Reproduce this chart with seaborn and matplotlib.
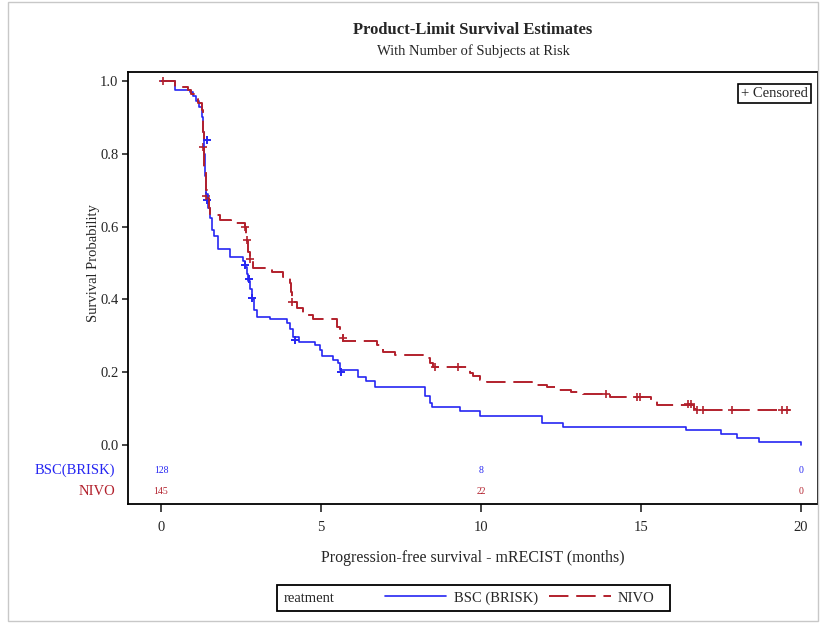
import matplotlib
matplotlib.use("Agg")
import matplotlib.pyplot as plt
import seaborn as sns
from matplotlib.lines import Line2D
from matplotlib.patches import Rectangle

# Kaplan-Meier step points (time in months, survival after step)
bsc_t = [0, 0.45, 0.9, 1.0, 1.1, 1.2, 1.27, 1.3, 1.35, 1.38, 1.42, 1.47, 1.53, 1.6, 1.65,
         1.78, 2.16, 2.55, 2.63, 2.68, 2.72, 2.78, 2.83, 2.9, 2.99, 3.4, 3.93, 4.03, 4.13,
         4.3, 4.81, 4.97, 5.02, 5.38, 5.54, 5.6, 6.16, 6.4, 6.69, 8.25, 8.4, 8.46, 9.34,
         9.97, 11.9, 12.57, 16.4, 17.5, 18.0, 18.7, 20.0]
bsc_s = [1.0, 0.975, 0.97, 0.96, 0.945, 0.93, 0.90, 0.86, 0.80, 0.74, 0.69, 0.65, 0.625,
         0.59, 0.575, 0.54, 0.516, 0.505, 0.49, 0.47, 0.45, 0.43, 0.40, 0.37, 0.352, 0.345,
         0.335, 0.32, 0.298, 0.284, 0.275, 0.26, 0.245, 0.234, 0.225, 0.205, 0.188, 0.175,
         0.16, 0.135, 0.115, 0.105, 0.094, 0.08, 0.06, 0.049, 0.04, 0.03, 0.019, 0.009, 0.0]

nivo_t = [0, 0.45, 0.85, 0.95, 1.05, 1.16, 1.27, 1.3, 1.33, 1.36, 1.4, 1.43, 1.5, 1.53,
          1.84, 2.2, 2.63, 2.66, 2.68, 2.72, 2.78, 2.88, 3.46, 3.8, 4.03, 4.06, 4.08, 4.24,
          4.44, 4.75, 5.49, 5.59, 5.7, 6.74, 6.94, 7.3, 8.2, 8.4, 8.5, 9.66, 9.76, 9.97,
          10.2, 11.6, 12.06, 12.37, 12.8, 13.2, 14.03, 15.3, 15.5, 16.65, 16.75, 19.66]
nivo_s = [1.0, 0.985, 0.975, 0.965, 0.95, 0.94, 0.92, 0.86, 0.82, 0.76, 0.70, 0.68, 0.65,
          0.632, 0.618, 0.61, 0.60, 0.575, 0.56, 0.53, 0.51, 0.486, 0.476, 0.462, 0.445,
          0.42, 0.394, 0.376, 0.357, 0.347, 0.325, 0.302, 0.287, 0.275, 0.256, 0.247,
          0.238, 0.225, 0.215, 0.197, 0.19, 0.179, 0.174, 0.165, 0.16, 0.151, 0.146, 0.14,
          0.132, 0.12, 0.11, 0.10, 0.095, 0.095]

# censored observations
bsc_cens_t = [1.43, 1.44, 2.63, 2.75, 2.83, 4.2, 5.63]
bsc_cens_s = [0.838, 0.673, 0.495, 0.455, 0.404, 0.288, 0.2]
nivo_cens_t = [0.05, 1.3, 1.42, 2.63, 2.68, 2.78, 4.08, 5.68, 8.56, 9.28, 13.9, 14.87,
               14.97, 16.47, 16.55, 16.75, 16.95, 17.83, 19.4, 19.57]
nivo_cens_s = [1.0, 0.82, 0.685, 0.60, 0.563, 0.51, 0.394, 0.294, 0.215, 0.215, 0.14,
               0.132, 0.132, 0.112, 0.112, 0.095, 0.095, 0.095, 0.095, 0.095]

# numbers at risk
risk_times = [0, 10, 20]
bsc_risk = [128, 8, 0]
nivo_risk = [145, 22, 0]

blue = '#2626F2'
red = '#B2202C'

sns.set_style('ticks')
plt.rcParams['font.family'] = ['Liberation Serif', 'DejaVu Serif']

fig = plt.figure(figsize=(8.22, 6.23), dpi=100)
ax = fig.add_axes([128 / 822, 1 - 504 / 623, 690 / 822, 432 / 623])

sns.lineplot(x=bsc_t, y=bsc_s, drawstyle='steps-post', color=blue, lw=1.2,
             estimator=None, sort=False, ax=ax)
sns.lineplot(x=nivo_t, y=nivo_s, drawstyle='steps-post', color=red, lw=1.4,
             estimator=None, sort=False, ax=ax)
ax.lines[-1].set_linestyle((0, (10, 4)))
sns.scatterplot(x=bsc_cens_t, y=bsc_cens_s, marker='+', s=38, color=blue,
                linewidth=1.4, ax=ax)
sns.scatterplot(x=nivo_cens_t, y=nivo_cens_s, marker='+', s=38, color=red,
                linewidth=1.2, ax=ax)

for t, n in zip(risk_times, bsc_risk):
    ax.text(t, -0.069, str(n), color=blue, fontsize=7, ha='center', va='center')
for t, n in zip(risk_times, nivo_risk):
    ax.text(t, -0.129, str(n), color=red, fontsize=7, ha='center', va='center')
ax.text(-0.018, -0.069, 'BSC(BRISK)', color=blue, fontsize=10.5, ha='right',
        va='center', transform=ax.get_yaxis_transform())
ax.text(-0.018, -0.129, 'NIVO', color=red, fontsize=10.5, ha='right',
        va='center', transform=ax.get_yaxis_transform())

ax.set_xlim(-1.03, 20.53)
ax.set_ylim(-0.162, 1.025)
ax.set_xticks([0, 5, 10, 15, 20])
ax.set_yticks([0.0, 0.2, 0.4, 0.6, 0.8, 1.0])
ax.set_yticklabels(['0.0', '0.2', '0.4', '0.6', '0.8', '1.0'])
ax.tick_params(axis='x', bottom=True, direction='out', length=6, width=1.2,
               labelsize=10.5, pad=6)
ax.tick_params(axis='y', left=True, direction='out', length=4, width=1.2,
               labelsize=10.5, pad=3)
for sp in ax.spines.values():
    sp.set_visible(True)
    sp.set_color('black')
    sp.set_linewidth(1.3)
ax.set_xlabel('Progression-free survival - mRECIST (months)', fontsize=11.5, labelpad=12)
ax.set_ylabel('Survival Probability', fontsize=10.5)
ax.yaxis.set_label_coords(-0.04, 0.558)

# censored legend box
ax.text(0.985, 0.965, '+ Censored', transform=ax.transAxes, fontsize=10.5,
        ha='right', va='top',
        bbox=dict(boxstyle='square,pad=0.2', fc='white', ec='black', lw=1.2))

fig.text(473 / 822, 1 - 30 / 623, 'Product-Limit Survival Estimates', fontsize=12,
         fontweight='bold', ha='center', va='center')
fig.text(473 / 822, 1 - 51 / 623, 'With Number of Subjects at Risk', fontsize=10.5,
         ha='center', va='center')

# bottom legend
fig.patches.append(Rectangle((277 / 822, 1 - 611 / 623), 393 / 822, 26 / 623,
                             transform=fig.transFigure, fill=False, ec='black', lw=1.3))
fig.text(284 / 822, 1 - 598 / 623, 'reatment', fontsize=10.5, ha='left', va='center')
handles = [Line2D([], [], color=blue, lw=1.2),
           Line2D([], [], color=red, lw=1.4, linestyle=(0, (10, 4)))]
fig.legend(handles, ['BSC (BRISK)', 'NIVO'], ncol=2, frameon=False,
           loc='center left', bbox_to_anchor=(372 / 822, 1 - 598 / 623),
           fontsize=10.5, handlelength=4.2, handletextpad=0.5, columnspacing=0.8)

# outer frame
fig.patches.append(Rectangle((8 / 822, 2 / 623), 810 / 822, 619 / 623,
                             transform=fig.transFigure, fill=False, ec='#c8c8c8', lw=1))

fig.savefig('out.png', dpi=100)
